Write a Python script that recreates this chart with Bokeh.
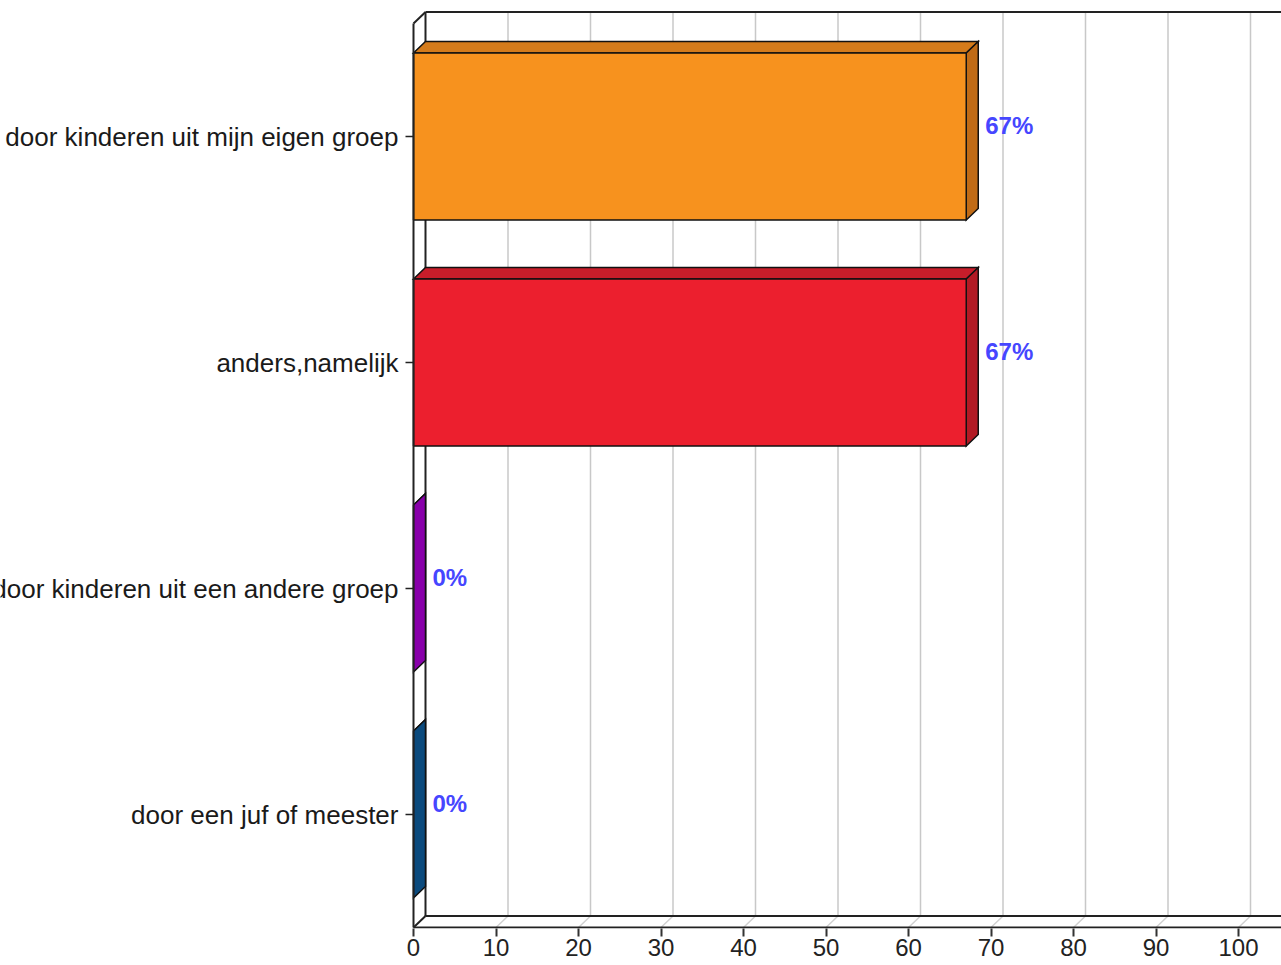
from bokeh.plotting import figure
from bokeh.models import Range1d, FixedTicker
from bokeh.embed import file_html
from bokeh.resources import INLINE

# ---- data ----
categories = ["door kinderen uit mijn eigen groep", "anders,namelijk",
              "door kinderen uit een andere groep", "door een juf of meester"]
values = [67, 67, 0, 0]
front_colors = ["#F7921E", "#EC1F2E", "#9A00C4", "#0E5A94"]
top_colors = ["#D47B1B", "#C81D2A", "#8500AA", "#0B4A7D"]
side_colors = ["#C06B16", "#B21A24", "#8800AA", "#0B4A7D"]
x_ticks = [0, 10, 20, 30, 40, 50, 60, 70, 80, 90, 100]

# ---- geometry ----
W, H = 1281, 965
zero_px = 413          # canvas x of value 0
border_bottom = 37
px_per_x = 8.25
px_per_y = 226.0
x_start = -zero_px / px_per_x
x_end = (W - zero_px) / px_per_x
y_start = -1.0 / px_per_y
y_end = (H - border_bottom) / px_per_y + y_start
n = len(categories)
dx = 12 / px_per_x
dy = 11.5 / px_per_y
bar_h = 167 / px_per_y

p = figure(width=W, height=H, output_backend="svg", toolbar_location=None,
           x_range=Range1d(x_start, x_end), y_range=Range1d(y_start, y_end),
           min_border_left=0, min_border_right=0, min_border_top=0,
           min_border_bottom=border_bottom)
p.outline_line_color = None
p.grid.visible = False
p.background_fill_color = "white"

wall = "#222222"
# back-wall grid lines and floor diagonals
gx = [t + dx for t in x_ticks[1:]]
p.segment(x0=gx, y0=[dy] * len(gx), x1=gx, y1=[n + dy] * len(gx), line_color="#c8c8c8", line_width=1.5)
p.segment(x0=x_ticks[1:], y0=[0] * len(gx), x1=gx, y1=[dy] * len(gx), line_color="#d0d0d0", line_width=1.5)
# back wall frame
p.segment(x0=[dx, dx, dx, 0, 0], y0=[n + dy, dy, dy, n, 0],
          x1=[x_end, x_end, dx, dx, dx], y1=[n + dy, dy, n + dy, n + dy, dy],
          line_color=wall, line_width=2)

# bars
yc_list = [n - 0.5 - i for i in range(n)]
for i, v in enumerate(values):
    yc = yc_list[i]
    yb, yt = yc - bar_h / 2, yc + bar_h / 2
    p.patch([0, v, v + dx, dx], [yt, yt, yt + dy, yt + dy],
            fill_color=top_colors[i], line_color="#111111", line_width=1.5, line_join="miter")
    p.patch([v, v + dx, v + dx, v], [yb, yb + dy, yt + dy, yt],
            fill_color=side_colors[i], line_color="#111111", line_width=1.5, line_join="miter")
    if v > 0:
        p.quad(left=0, right=v, bottom=yb, top=yt,
               fill_color=front_colors[i], line_color="#111111", line_width=1.5)

# value labels
p.text(x=[v + dx for v in values], y=[yc + dy for yc in yc_list],
       text=[f"{v}%" for v in values], x_offset=7,
       text_align="left", text_baseline="middle",
       text_font={"value": "Liberation Sans"}, text_font_style="bold",
       text_font_size="24px", text_color="#4646FF")

# front left wall line and front floor line
p.segment(x0=[0, 0], y0=[0, 0], x1=[0, x_end], y1=[n, 0], line_color=wall, line_width=2)

# axes
p.xaxis.ticker = FixedTicker(ticks=x_ticks)
p.xaxis.minor_tick_line_color = None
p.xaxis.axis_line_color = None
p.xaxis.major_tick_in = 0
p.xaxis.major_tick_out = 8
p.xaxis.major_tick_line_width = 2
p.xaxis.major_tick_line_color = "#333333"
p.xaxis.major_label_standoff = 2
p.xaxis.major_label_text_font = "Liberation Sans"
p.xaxis.major_label_text_font_size = "24px"
p.xaxis.major_label_text_color = "#222222"

p.yaxis.fixed_location = 0
p.yaxis.ticker = FixedTicker(ticks=yc_list)
p.yaxis.major_label_overrides = {y: c for y, c in zip(yc_list, categories)}
p.yaxis.axis_line_color = None
p.yaxis.minor_tick_line_color = None
p.yaxis.major_tick_in = 0
p.yaxis.major_tick_out = 8
p.yaxis.major_tick_line_width = 1.5
p.yaxis.major_tick_line_color = "#222222"
p.yaxis.major_label_standoff = 7
p.yaxis.major_label_text_font = "Liberation Sans"
p.yaxis.major_label_text_font_size = "26px"
p.yaxis.major_label_text_color = "#1a1a1a"

open("out.html", "w").write(file_html(p, INLINE))
